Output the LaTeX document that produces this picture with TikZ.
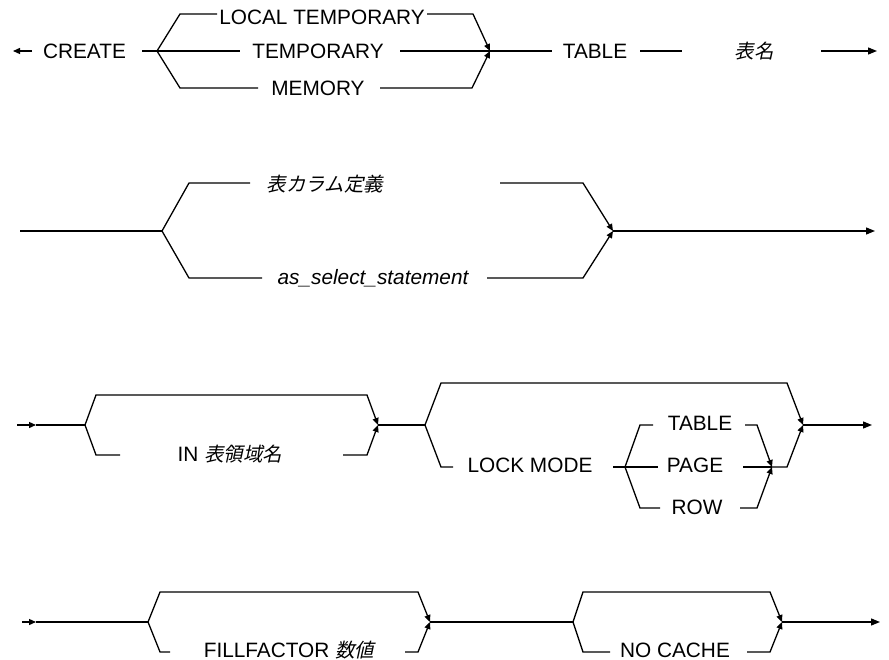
\documentclass[tikz,border=0pt]{standalone}
\usepackage{fontspec}
\setmainfont{Liberation Sans}
\newfontfamily\jp[FakeSlant=0.22]{Noto Sans CJK JP}
\usetikzlibrary{arrows.meta}
\begin{document}
\begin{tikzpicture}[x=1pt,y=-1pt,
  rail/.style={line width=1.3pt, line join=miter},
  merge/.style={rail, -{Triangle[length=7pt,width=6pt]}},
  endarrow/.style={rail, -{Triangle[length=9pt,width=7pt]}},
  kw/.style={font=\fontsize{20.8}{24}\selectfont, inner sep=0pt},
  jpt/.style={font=\fontsize{19.5}{24}\selectfont\jp, inner sep=0pt},
  itx/.style={font=\fontsize{20.8}{24}\selectfont\itshape, inner sep=0pt}]
\useasboundingbox[fill=white] (0,0) rectangle (889,660);

% ---------------- Row 1 ----------------
\coordinate (s1) at (13,51);
\coordinate (j1) at (157,51);
\coordinate (j2) at (490,51);
\coordinate (e1) at (877,51);
\node[kw] (create) at (84.5,51) {CREATE};
\node[kw] (localtemp) at (322,17) {LOCAL TEMPORARY};
\node[kw] (temp) at (318,51) {TEMPORARY};
\node[kw] (memory) at (318,88) {MEMORY};
\node[kw] (table1) at (595,51) {TABLE};
\node[jpt] (tname) at (754,51) {表名};
\draw[rail, -{Triangle[length=7pt,width=6pt]}] (32,51) -- (s1);
\draw[rail] (142,51) -- (j1);
\draw[rail] (j1) -- (180,14) -- (217,14);
\draw[merge] (427,14) -- (473,14) -- (j2);
\draw[rail] (j1) -- (240,51);
\draw[rail] (400,51) -- (j2);
\draw[rail] (j1) -- (180,88) -- (258,88);
\draw[merge] (380,88) -- (472,88) -- (j2);
\draw[rail] (j2) -- (552,51);
\draw[rail] (640,51) -- (682,51);
\draw[endarrow] (821,51) -- (e1);

% ---------------- Row 2 ----------------
\coordinate (s2) at (20,231);
\coordinate (j3) at (162,231);
\coordinate (j4) at (613,231);
\coordinate (e2) at (875,231);
\node[jpt] (coldef) at (325,184) {表カラム定義};
\node[itx] (asselect) at (373,278) {as\_select\_statement};
\draw[rail] (s2) -- (j3);
\draw[rail] (j3) -- (189,183) -- (250,183);
\draw[merge] (500,183) -- (583,183) -- (j4);
\draw[rail] (j3) -- (189,278) -- (262,278);
\draw[merge] (487,278) -- (583,278) -- (j4);
\draw[endarrow] (j4) -- (e2);

% ---------------- Row 3 ----------------
\coordinate (s3) at (17,425);
\coordinate (m3) at (36,425);
\coordinate (j5) at (85,425);
\coordinate (j6) at (378,425);
\coordinate (j7) at (425,425);
\coordinate (j8) at (803,425);
\coordinate (j9) at (625,467);
\coordinate (j10) at (772,467);
\coordinate (e3) at (872,425);
\node[kw] (intbs) at (230,454) {IN {\jp\fontsize{19.5}{24}\selectfont 表領域名}};
\node[kw] (lockmode) at (530,465) {LOCK MODE};
\node[kw] (ltable) at (700,423) {TABLE};
\node[kw] (lpage) at (695,465) {PAGE};
\node[kw] (lrow) at (697,507) {ROW};
\draw[rail, -{Triangle[length=7pt,width=6pt]}] (s3) -- (m3);
\draw[rail] (m3) -- (j5);
\draw[merge] (j5) -- (96,395) -- (367,395) -- (j6);
\draw[rail] (j5) -- (96,455) -- (120,455);
\draw[merge] (343,455) -- (367,455) -- (j6);
\draw[rail] (j6) -- (j7);
\draw[merge] (j7) -- (441,383) -- (787,383) -- (j8);
\draw[rail] (j7) -- (441,467) -- (453,467);
\draw[rail] (613,467) -- (j9);
\draw[rail] (j9) -- (640,425) -- (653,425);
\draw[merge] (745,425) -- (757,425) -- (j10);
\draw[rail] (j9) -- (658,467);
\draw[rail] (743,467) -- (j10);
\draw[rail] (j9) -- (640,508) -- (660,508);
\draw[merge] (740,508) -- (757,508) -- (j10);
\draw[merge] (j10) -- (787,467) -- (j8);
\draw[endarrow] (j8) -- (e3);

% ---------------- Row 4 ----------------
\coordinate (s4) at (22,622);
\coordinate (m4) at (36,622);
\coordinate (j11) at (148,622);
\coordinate (j12) at (430,622);
\coordinate (j13) at (573,622);
\coordinate (j14) at (782,622);
\coordinate (e4) at (880,622);
\node[kw] (fill) at (289,650) {FILLFACTOR {\jp\fontsize{19.5}{24}\selectfont 数値}};
\node[kw] (nocache) at (675,650) {NO CACHE};
\draw[rail, -{Triangle[length=7pt,width=6pt]}] (s4) -- (m4);
\draw[rail] (m4) -- (j11);
\draw[merge] (j11) -- (160,592) -- (418,592) -- (j12);
\draw[rail] (j11) -- (160,652) -- (170,652);
\draw[merge] (405,652) -- (418,652) -- (j12);
\draw[rail] (j12) -- (j13);
\draw[merge] (j13) -- (583,592) -- (770,592) -- (j14);
\draw[rail] (j13) -- (583,652) -- (610,652);
\draw[merge] (747,652) -- (770,652) -- (j14);
\draw[endarrow] (j14) -- (e4);
\end{tikzpicture}
\end{document}
